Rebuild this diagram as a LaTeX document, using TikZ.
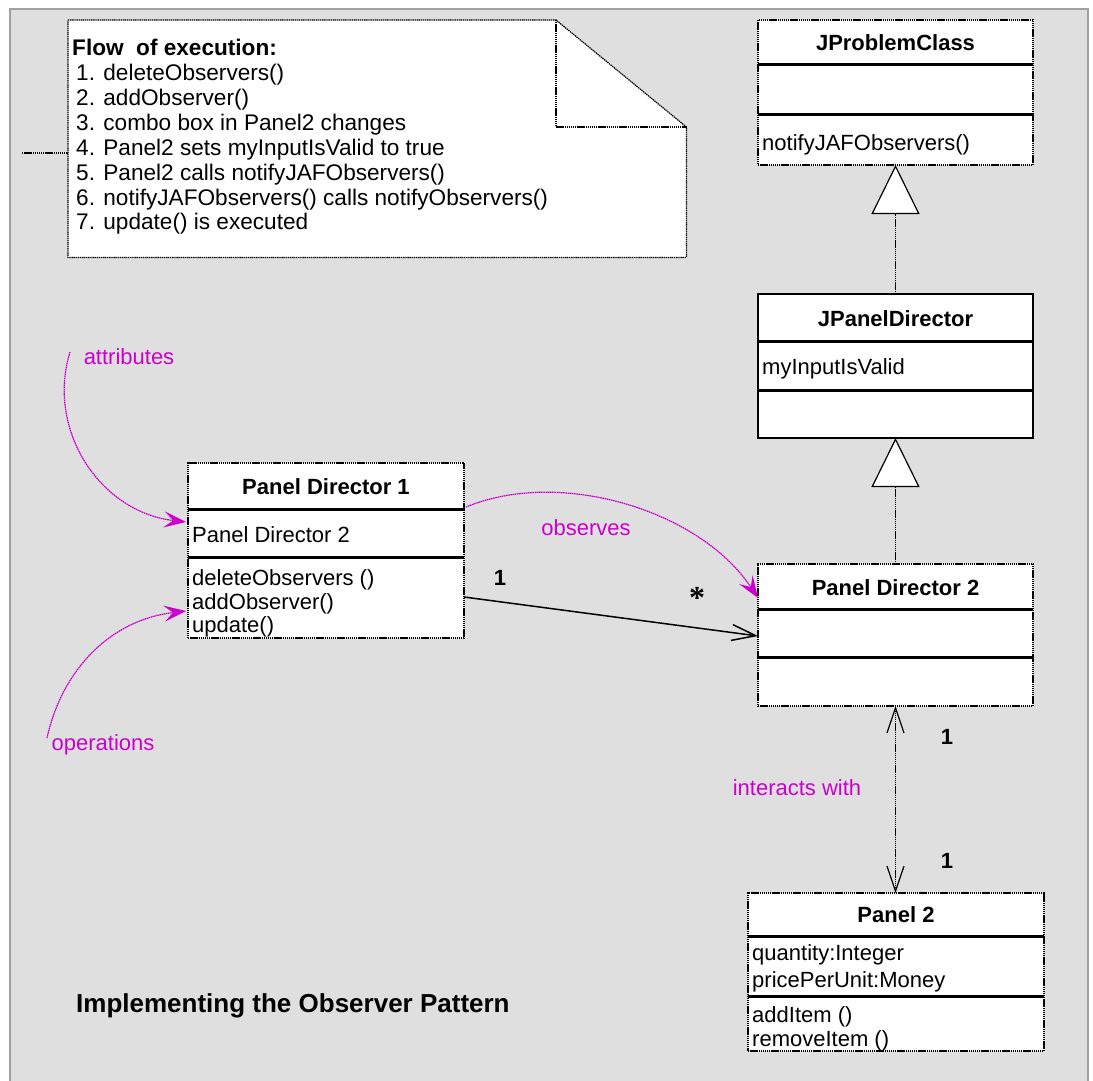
\documentclass[tikz,border=0pt]{standalone}
\usepackage{fontspec}
\setmainfont{Liberation Sans}
\newfontfamily\serifstar{Liberation Serif}
\usetikzlibrary{arrows.meta,calc}
\definecolor{panelgray}{RGB}{223,223,223}
\definecolor{framegray}{RGB}{160,160,160}
\definecolor{annot}{RGB}{204,0,204}
\newcommand\diagfont{\fontsize{22}{26}\selectfont}
\newcommand\notefont{\fontsize{22.6}{26}\selectfont}
\begin{document}
\begin{tikzpicture}[x=1pt,y=-1pt,
  boxline/.style={draw=black,line width=1.2pt,dash pattern=on 1.4pt off 0.7pt},
  classbox/.style={boxline,fill=white,anchor=north west,inner sep=0pt,outer sep=0pt},
  plainbox/.style={draw=black,line width=1.4pt,fill=white,anchor=north west,inner sep=0pt,outer sep=0pt},
  divider/.style={draw=black,line width=3pt},
  member/.style={anchor=base west,inner sep=0pt,font=\diagfont},
  noteline/.style={anchor=base west,inner sep=0pt,font=\notefont},
  classname/.style={anchor=base,inner sep=0pt,font=\diagfont\bfseries},
  mult/.style={anchor=base,inner sep=0pt,font=\diagfont\bfseries},
  remark/.style={anchor=base,inner sep=0pt,text=annot,font=\diagfont},
  remarkcurve/.style={draw=annot,line width=1.2pt,dash pattern=on 1.6pt off 0.6pt,
    -{Stealth[length=22pt,width=16pt,inset=9pt]}},
  inherit/.style={boxline,-{Triangle[length=49pt,width=48pt,fill=white]}}
]
% page and panel frame
\useasboundingbox (0,0) rectangle (1093,1081);
\fill[panelgray] (10,9) rectangle (1088,1081);
\draw[framegray,line width=2pt] (10,1081) -- (10,9) -- (1088,9) -- (1088,1081);

% note with folded corner
\node[anchor=north west,inner sep=0pt,minimum width=618pt,minimum height=237pt] (note) at (68,20) {};
\draw[boxline,fill=white] (note.north west) -- (556,20) -- (note.east |- 0,127)
  -- (note.south east) -- (note.south west) -- cycle;
\draw[boxline] (556,20) -- (556,127) -- (note.east |- 0,127);
\coordinate (lead) at (22,153);
\draw[boxline] (lead) -- (note.west |- lead);
\node[noteline,font=\notefont\bfseries] (flow) at (72,56) {Flow\ \ of execution:};
\node[noteline] (step1) at (76,81) {1. deleteObservers()};
\node[noteline] (step2) at (76,105.8) {2. addObserver()};
\node[noteline] (step3) at (76,130.6) {3. combo box in Panel2 changes};
\node[noteline] (step4) at (76,155.4) {4. Panel2 sets myInputIsValid to true};
\node[noteline] (step5) at (76,180.2) {5. Panel2 calls notifyJAFObservers()};
\node[noteline] (step6) at (76,205) {6. notifyJAFObservers() calls notifyObservers()};
\node[noteline] (step7) at (76,229.8) {7. update() is executed};

% JProblemClass
\node[classbox,minimum width=275pt,minimum height=145pt] (jpc) at (758,20) {};
\draw[divider] (758,65) -- (1033,65);
\draw[divider] (758,114) -- (1033,114);
\node[classname] (jpctitle) at (895.5,51) {JProblemClass};
\node[member] (jpcop) at (762,150) {notifyJAFObservers()};

% JPanelDirector
\node[plainbox,minimum width=275pt,minimum height=144pt] (jpd) at (758,294) {};
\draw[divider] (758,341) -- (1033,341);
\draw[divider] (758,390) -- (1033,390);
\node[classname] (jpdtitle) at (895.5,326) {JPanelDirector};
\node[member] (jpdattr) at (762,374) {myInputIsValid};

% Panel Director 2
\node[classbox,minimum width=275pt,minimum height=142pt] (pd2) at (758,564) {};
\draw[divider] (758,609) -- (1033,609);
\draw[divider] (758,657) -- (1033,657);
\node[classname] (pd2title) at (895.5,595) {Panel Director 2};

% Panel Director 1
\node[classbox,minimum width=276pt,minimum height=175pt] (pd1) at (188,463) {};
\draw[divider] (188,509) -- (464,509);
\draw[divider] (188,557) -- (464,557);
\node[classname] (pd1title) at (326,494) {Panel Director 1};
\node[member] (pd1attr) at (192,542) {Panel Director 2};
\node[member] (pd1op1) at (192,585) {deleteObservers ()};
\node[member] (pd1op2) at (192,609) {addObserver()};
\node[member] (pd1op3) at (192,632) {update()};

% Panel 2
\node[classbox,minimum width=296pt,minimum height=158pt] (p2) at (748,893) {};
\draw[divider] (748,936) -- (1044,936);
\draw[divider] (748,996) -- (1044,996);
\node[classname] (p2title) at (896,922) {Panel 2};
\node[member] (p2attr1) at (752,960.5) {quantity:Integer};
\node[member] (p2attr2) at (752,987) {pricePerUnit:Money};
\node[member] (p2op1) at (752,1022) {addItem ()};
\node[member] (p2op2) at (752,1046) {removeItem ()};

% generalisations
\draw[inherit] (jpd.north) -- (jpc.south);
\draw[inherit] (pd2.north) -- (jpd.south);

% association Panel Director 1 -> Panel Director 2
\draw[line width=1.5pt,-{Straight Barb[length=24pt,width=16pt]}] ($(pd1.north east)+(0,134)$) -- ($(pd2.north west)+(0,72)$);
\node[mult] (mone) at (500,585) {1};
\node[anchor=center,inner sep=0pt,font=\fontsize{32}{34}\selectfont\serifstar\bfseries] (mstar) at (697,598) {*};

% association Panel Director 2 <-> Panel 2
\draw[boxline,{Straight Barb[length=25pt,width=17pt]}-{Straight Barb[length=25pt,width=17pt]}]
  (pd2.south) -- (pd2.south |- p2.north);
\node[mult] (mtop) at (947,744) {1};
\node[mult] (mbottom) at (947,868) {1};
\node[remark] (interacts) at (797,795) {interacts with};

% annotations
\draw[remarkcurve] ($(pd1.north east)+(2,44)$) .. controls (560,468) and (700,510) .. ($(pd2.north west)+(0,34)$);
\node[remark] (observes) at (586,535) {observes};

\coordinate (attrtail) at (70,352);
\draw[remarkcurve] (attrtail) .. controls (46,430) and (100,512) .. ($(pd1.north west)+(-2,59)$);
\node[remark] (attrlabel) at (129,364) {attributes};

\coordinate (optail) at (47,738);
\draw[remarkcurve] (optail) .. controls (62,670) and (110,620) .. ($(pd1.north west)+(-2,148)$);
\node[remark] (oplabel) at (103,750) {operations};

% caption
\node[anchor=base west,inner sep=0pt,font=\fontsize{26}{30}\selectfont\bfseries] (caption)
  at (76,1012) {Implementing the Observer Pattern};
\end{tikzpicture}
\end{document}
